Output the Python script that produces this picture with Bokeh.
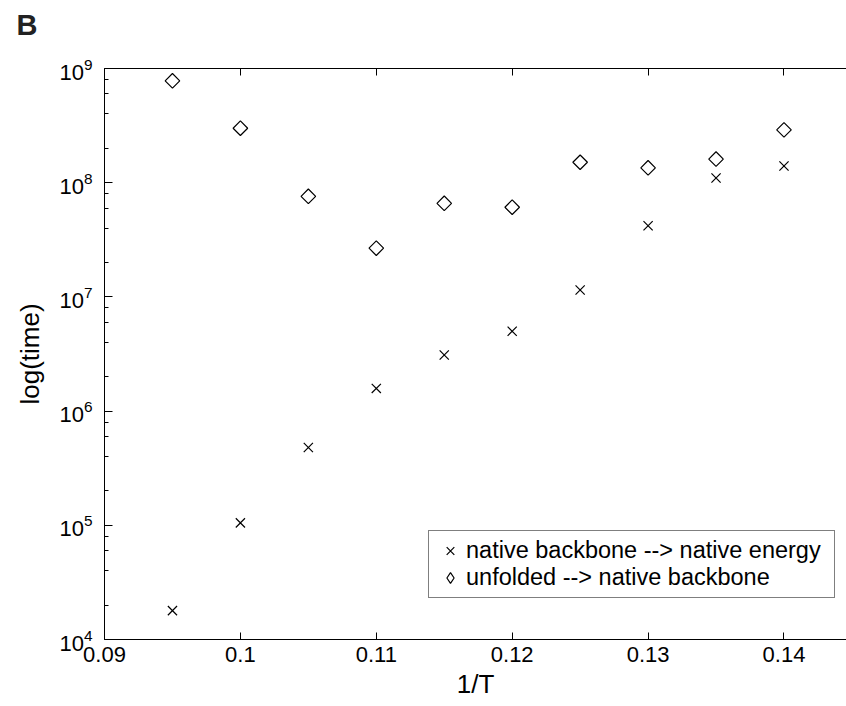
import math
from bokeh.plotting import figure
from bokeh.models import (Range1d, FixedTicker, LinearAxis, LogTicker, LogTickFormatter, Legend,
                          CustomJSTickFormatter)
from bokeh.embed import file_html
from bokeh.resources import INLINE

# ---- data ----
inv_T = [0.095, 0.100, 0.105, 0.110, 0.115, 0.120, 0.125, 0.130, 0.135, 0.140]
native_backbone_to_energy = [1.79e4, 1.05e5, 4.8e5, 1.58e6, 3.1e6, 5.0e6, 1.15e7, 4.2e7, 1.10e8, 1.40e8]
unfolded_to_backbone = [7.8e8, 3.0e8, 7.6e7, 2.67e7, 6.6e7, 6.1e7, 1.51e8, 1.35e8, 1.61e8, 2.9e8]
x_ticks = [0.09, 0.10, 0.11, 0.12, 0.13, 0.14]
x_tick_labels = ["0.09", "0.1", "0.11", "0.12", "0.13", "0.14"]
y_exponents = [4, 5, 6, 7, 8, 9]
series_names = ["native backbone --> native energy", "unfolded --> native backbone"]

FONT = "Liberation Sans"

p = figure(width=846, height=706, output_backend="svg", toolbar_location=None,
           y_axis_type="log",
           x_range=Range1d(0.09, 0.1446), y_range=Range1d(10 ** y_exponents[0], 10 ** y_exponents[-1]),
           min_border_left=104, min_border_right=0, min_border_top=68, min_border_bottom=67)
p.outline_line_color = None
p.grid.visible = False
p.background_fill_color = "white"
p.border_fill_color = "white"

# panel letter as the title
p.title.text = "B"
p.title.align = "left"
p.title.vertical_align = "top"
p.title.standoff = 10
p.title.offset = -88
p.title.text_font = FONT
p.title.text_font_size = "29px"
p.title.text_font_style = "bold"
p.title.text_color = "#222222"

blank = CustomJSTickFormatter(code="return ''")

# bottom axis
xa = p.xaxis[0]
xa.ticker = FixedTicker(ticks=x_ticks)
xa.major_label_overrides = {t: l for t, l in zip(x_ticks, x_tick_labels)}
xa.major_tick_in = 7
xa.major_tick_out = 0
xa.minor_tick_in = 0
xa.minor_tick_out = 0
xa.axis_line_color = "black"
xa.major_tick_line_color = "black"
xa.major_label_text_font = FONT
xa.major_label_text_font_size = "22px"
xa.major_label_text_color = "black"
xa.major_label_standoff = 7
xa.axis_label = "1/T"
xa.axis_label_text_font = FONT
xa.axis_label_text_font_size = "26px"
xa.axis_label_text_font_style = "normal"
xa.axis_label_text_color = "black"
xa.axis_label_standoff = 4

# left axis
ya = p.yaxis[0]
ya.ticker = LogTicker(mantissas=[1], desired_num_ticks=len(y_exponents))
ya.formatter = LogTickFormatter()
ya.major_tick_in = 8
ya.major_tick_out = 0
ya.minor_tick_in = 4
ya.minor_tick_out = 0
ya.axis_line_color = "black"
ya.major_tick_line_color = "black"
ya.minor_tick_line_color = "black"
ya.major_label_text_font = FONT
ya.major_label_text_font_size = "22px"
ya.major_label_text_color = "black"
ya.major_label_standoff = 12
ya.axis_label = "log(time)"
ya.axis_label_text_font = FONT
ya.axis_label_text_font_size = "26px"
ya.axis_label_text_font_style = "normal"
ya.axis_label_text_color = "black"
ya.axis_label_standoff = 11

# top axis (ticks only); a blank axis-label band keeps the panel letter high
top = LinearAxis(ticker=FixedTicker(ticks=x_ticks), formatter=blank,
                 major_tick_in=7, major_tick_out=0, minor_tick_in=0, minor_tick_out=0,
                 axis_line_color="black", major_tick_line_color="black",
                 major_label_standoff=0,
                 axis_label=" ", axis_label_text_font_size="12px", axis_label_standoff=4)
p.add_layout(top, "above")

r1 = p.scatter(inv_T, native_backbone_to_energy, marker="x", size=13,
               line_color="black", line_width=1.2)
r2 = p.scatter(inv_T, unfolded_to_backbone, marker="square", angle=math.pi / 4, size=10.3,
               fill_color=None, line_color="black", line_width=1.2)
# hidden legend-only proxy so the key shows a diamond (legend glyphs are never rotated)
r2_key = p.scatter(inv_T, unfolded_to_backbone, marker="diamond", size=13, fill_color=None,
                   line_color="black", line_width=1.2, visible=False)

legend = Legend(items=[(series_names[0], [r1]), (series_names[1], [r2_key])],
                location=(324, 41), border_line_color="black", border_line_width=1,
                background_fill_color="white", background_fill_alpha=1,
                label_text_font=FONT, label_text_font_size="23.5px", label_text_color="black",
                padding=6, spacing=0, glyph_width=30, glyph_height=27, label_standoff=1,
                label_height=24, label_width=362, margin=0)
p.add_layout(legend)

open("out.html", "w").write(file_html(p, INLINE))
